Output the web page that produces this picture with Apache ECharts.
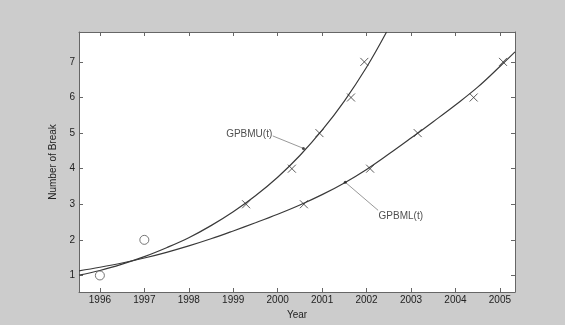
<!DOCTYPE html>
<html>
<head>
<meta charset="utf-8">
<script src="https://cdn.jsdelivr.net/npm/echarts@6/dist/echarts.min.js"></script>
<style>
html,body{margin:0;padding:0;background:#cccccc;}
#chart{width:565px;height:325px;}
</style>
</head>
<body>
<div id="chart"></div>
<script>
// Axis ranges and ticks
const xMin = 1995.53, xMax = 2005.34;
const yMin = 0.535, yMax = 7.84;
const xTicks = [1996, 1997, 1998, 1999, 2000, 2001, 2002, 2003, 2004, 2005];
const yTicks = [1, 2, 3, 4, 5, 6, 7];

// Fitted curve GPBMU(t)
const upperT = [1995.53, 1996.0, 1996.5, 1997.0, 1997.5, 1998.0, 1998.5, 1999.0, 1999.5, 2000.0, 2000.5, 2001.0, 2001.5, 2002.0, 2002.45];
const upperY = [1.01, 1.14, 1.32, 1.53, 1.78, 2.06, 2.40, 2.79, 3.24, 3.76, 4.37, 5.08, 5.90, 6.85, 7.84];

// Fitted curve GPBML(t)
const lowerT = [1995.53, 1996.0, 1996.5, 1997.0, 1997.5, 1998.0, 1998.5, 1999.0, 1999.5, 2000.0, 2000.5, 2001.0, 2001.5, 2002.0, 2002.5, 2003.0, 2003.5, 2004.0, 2004.5, 2005.0, 2005.34];
const lowerY = [1.13, 1.23, 1.35, 1.49, 1.65, 1.83, 2.03, 2.25, 2.48, 2.72, 2.98, 3.27, 3.60, 3.98, 4.41, 4.86, 5.32, 5.79, 6.29, 6.87, 7.28];

// Observed breaks (circles)
const obsT = [1996.0, 1997.0];
const obsY = [1, 2];

// Observed breaks marked x, upper group
const upperObsT = [1999.29, 2000.32, 2000.94, 2001.65, 2001.95];
const upperObsY = [3, 4, 5, 6, 7];

// Observed breaks marked x, lower group
const lowerObsT = [2000.59, 2002.08, 2003.15, 2004.41, 2005.07];
const lowerObsY = [3, 4, 5, 6, 7];

// Annotations
const annTexts = ['GPBMU(t)', 'GPBML(t)'];
const annTextT = [1999.36, 2002.77];
const annTextY = [4.96, 2.66];
const annFromT = [1999.89, 2002.26];
const annFromY = [4.92, 2.83];
const annToT = [2000.58, 2001.52];
const annToY = [4.57, 3.62];

const zip = (a, b) => a.map((v, i) => [v, b[i]]);

const font = 'Liberation Sans, Arial, Helvetica, sans-serif';
const axisColor = '#666';
const textColor = '#222';

const chart = echarts.init(document.getElementById('chart'), null, {renderer: 'canvas'});

const baseX = {
  type: 'value', min: xMin, max: xMax,
  axisLine: {show: true, onZero: false, lineStyle: {color: axisColor, width: 1}},
  splitLine: {show: false},
  axisTick: {show: true, inside: true, length: 4, customValues: xTicks, lineStyle: {color: axisColor}},
};
const baseY = {
  type: 'value', min: yMin, max: yMax,
  axisLine: {show: true, onZero: false, lineStyle: {color: axisColor, width: 1}},
  splitLine: {show: false},
  axisTick: {show: true, inside: true, length: 4, customValues: yTicks, lineStyle: {color: axisColor}},
};

const series = [
  {
    name: 'GPBMU', type: 'line', data: zip(upperT, upperY), smooth: 0.4,
    showSymbol: false, symbol: 'none', clip: true,
    lineStyle: {color: '#3a3a3a', width: 1.2}, z: 3
  },
  {
    name: 'GPBML', type: 'line', data: zip(lowerT, lowerY), smooth: 0.4,
    showSymbol: false, symbol: 'none', clip: true,
    lineStyle: {color: '#3a3a3a', width: 1.2}, z: 3
  },
  {
    name: 'obs', type: 'scatter', data: zip(obsT, obsY),
    symbol: 'circle', symbolSize: 9,
    itemStyle: {color: '#ffffff', borderColor: '#555', borderWidth: 1}, z: 4
  },
  {
    name: 'upperObs', type: 'scatter', data: zip(upperObsT, upperObsY),
    symbol: 'path://M0,0L10,10M10,0L0,10', symbolSize: 8,
    itemStyle: {color: 'rgba(0,0,0,0)', borderColor: '#333', borderWidth: 1}, z: 4
  },
  {
    name: 'lowerObs', type: 'scatter', data: zip(lowerObsT, lowerObsY),
    symbol: 'path://M0,0L10,10M10,0L0,10', symbolSize: 8,
    itemStyle: {color: 'rgba(0,0,0,0)', borderColor: '#333', borderWidth: 1}, z: 4
  },
  {
    name: 'annText', type: 'scatter', symbolSize: 1,
    itemStyle: {color: 'rgba(0,0,0,0)'},
    data: annTexts.map((t, i) => ({name: t, value: [annTextT[i], annTextY[i]]})),
    label: {show: true, position: 'inside', formatter: p => p.name, color: textColor,
            fontFamily: font, fontSize: 10},
    silent: true, z: 5
  },
  {
    name: 'annDots', type: 'scatter', symbolSize: 3,
    itemStyle: {color: '#222'},
    data: zip(annToT, annToY), z: 5
  }
];
annTexts.forEach((t, i) => {
  series.push({
    name: 'annLine' + i, type: 'line', symbol: 'none',
    data: [[annFromT[i], annFromY[i]], [annToT[i], annToY[i]]],
    lineStyle: {color: '#999', width: 1}, z: 2
  });
});

chart.setOption({
  animation: false,
  backgroundColor: '#cccccc',
  grid: {left: 79, top: 32, right: 50, bottom: 31, show: true, backgroundColor: '#ffffff', borderWidth: 0},
  xAxis: [
    Object.assign({}, baseX, {
      position: 'bottom',
      name: 'Year', nameLocation: 'middle', nameGap: 18,
      nameTextStyle: {color: textColor, fontFamily: font, fontSize: 10},
      axisLabel: {show: true, customValues: xTicks, margin: 3, color: textColor, fontFamily: font, fontSize: 10,
                  formatter: v => String(Math.round(v))}
    }),
    Object.assign({}, baseX, {position: 'top', axisLabel: {show: false}})
  ],
  yAxis: [
    Object.assign({}, baseY, {
      position: 'left',
      name: 'Number of Break', nameLocation: 'middle', nameGap: 12, nameRotate: 90,
      nameTextStyle: {color: textColor, fontFamily: font, fontSize: 10},
      axisLabel: {show: true, customValues: yTicks, margin: 4, color: textColor, fontFamily: font, fontSize: 10,
                  formatter: v => String(Math.round(v))}
    }),
    Object.assign({}, baseY, {position: 'right', axisLabel: {show: false}})
  ],
  series: series
});
</script>
</body>
</html>
